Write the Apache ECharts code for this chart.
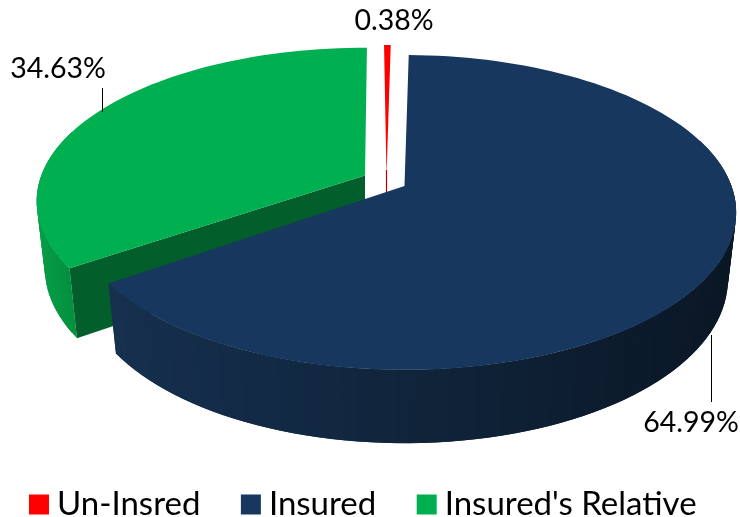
<!DOCTYPE html>
<html>
<head>
<meta charset="utf-8">
<style>html,body{margin:0;padding:0;background:#fff}#c{width:740px;height:517px}</style>
<script src="https://cdn.jsdelivr.net/npm/echarts@6/dist/echarts.min.js"></script>
</head>
<body>
<div id="c"></div>
<script>
// data
var categories = ['Un-Insred', 'Insured', "Insured's Relative"];
var shares = [0.38, 64.99, 34.63];

// style and layout, kept apart from the data
var topColors = ['#ff0000', '#17375e', '#00b050'];
var wallColors = [['#d00000', '#d00000'], ['#16304f', '#0a1725'], ['#079c46', '#038c3c']];
var faceColors = ['#b00000', '#0d2036', '#025e2a'];
var apexes = [[386.5, 176], [404.5, 186], [365, 175.5]];
var sliceScale = [[1, 1], [1, 1], [0.99, 0.975]];
var sliceTurn = [0, 0, 0.9];
var labelSpots = [[394, 21], [691, 423], [58, 69]];
var leaders = [null, [711.5, 335, 711.5, 402], [102.5, 88, 102.5, 112]];
var firstAngle = -0.5, rx = 327, ry = 153, persp = 0.168, depth = 66, lowPersp = 0.1, shrink = 0.975;
var wallFrom = 72, wallTo = 288;
var FONT = 'Lato, "Open Sans", sans-serif';

var total = shares.reduce(function (a, b) { return a + b; }, 0);
function project(idx, deg, lower) {
  var t = deg * Math.PI / 180, x = Math.sin(t), y = Math.cos(t), w = 1 + persp * y;
  var X = sliceScale[idx][0] * rx * x / w, Y = -sliceScale[idx][1] * ry * y / w;
  if (lower) { X *= shrink; Y += depth / (1 + lowPersp * y); }
  return [apexes[idx][0] + X, apexes[idx][1] + Y];
}
function arc(idx, a0, a1, lower) {
  var pts = [], n = Math.max(2, Math.ceil(Math.abs(a1 - a0) / 2));
  for (var i = 0; i <= n; i++) pts.push(project(idx, a0 + (a1 - a0) * i / n, lower));
  return pts;
}
function makeItem(idx) {
  return function (params, api) {
    var before = 0;
    for (var k = 0; k < idx; k++) before += shares[k];
    var val = api.value(0);
    var a0 = firstAngle + sliceTurn[idx] + before / total * 360, a1 = a0 + val / total * 360;
    var apex = apexes[idx];
    var topArc = arc(idx, a0, a1, false);
    var apexLow = [apex[0], apex[1] + depth];
    var kids = [];
    // outer wall: only the part that faces the viewer, as shaded bands that overlap
    var w0 = Math.max(a0, wallFrom), w1 = Math.min(a1, wallTo);
    if (w1 > w0) {
      var upper = arc(idx, w0, w1, false), lower = arc(idx, w0, w1, true);
      var xs = upper.concat(lower).map(function (p) { return p[0]; });
      var xMin = Math.min.apply(null, xs), xMax = Math.max.apply(null, xs);
      for (var i = 0; i < upper.length - 1; i++) {
        var j = Math.min(i + 2, upper.length - 1);
        var f = ((upper[i][0] + upper[i + 1][0]) / 2 - xMin) / (xMax - xMin);
        var c = echarts.color.lerp(f, wallColors[idx]);
        kids.push({ type: 'polygon', shape: { points: [upper[i], upper[j], lower[j], lower[i]] },
          style: { fill: c } });
      }
    }
    // cut face at the slice's leading edge
    if (idx === 2) {
      kids.push({ type: 'polygon',
        shape: { points: [apex, project(idx, a0, false), project(idx, a0, true), apexLow] },
        style: { fill: faceColors[idx] } });
    }
    if (idx === 0) {
      kids.push({ type: 'line', shape: { x1: apex[0], y1: apex[1] - 6, x2: apexLow[0], y2: apexLow[1] },
        style: { stroke: faceColors[idx], lineWidth: 1.2 } });
    }
    // top surface
    kids.push({ type: 'polygon', shape: { points: [apex].concat(topArc) }, style: { fill: topColors[idx] } });
    // leader
    if (leaders[idx]) {
      var L = leaders[idx];
      kids.push({ type: 'line', z2: 5, shape: { x1: L[0], y1: L[1], x2: L[2], y2: L[3] },
        style: { stroke: '#000', lineWidth: 1 } });
    }
    // value label
    kids.push({ type: 'text', z2: 6, style: { text: val.toFixed(2) + '%', x: labelSpots[idx][0], y: labelSpots[idx][1],
      align: 'center', verticalAlign: 'middle', fill: '#000', font: '28.5px ' + FONT } });
    return { type: 'group', children: kids };
  };
}
// red is at the back, green next, navy at the front
var drawOrder = [0, 2, 1];
var series = categories.map(function (name, i) {
  return {
    type: 'custom', name: name, coordinateSystem: 'none',
    z: 2 + drawOrder.indexOf(i), silent: true, animation: false,
    itemStyle: { color: topColors[i] },
    data: [[shares[i]]], renderItem: makeItem(i)
  };
});
var chart = echarts.init(document.getElementById('c'), null, { renderer: 'canvas' });
chart.setOption({
  backgroundColor: '#fff', animation: false,
  legend: {
    data: categories, left: 24, top: 483, itemWidth: 20, itemHeight: 20, itemGap: 40.5,
    icon: 'rect', selectedMode: false,
    textStyle: { fontFamily: 'Lato', fontSize: 33, color: '#000', padding: [0, 0, 0, 3] }
  },
  series: series
});
</script>
</body>
</html>
